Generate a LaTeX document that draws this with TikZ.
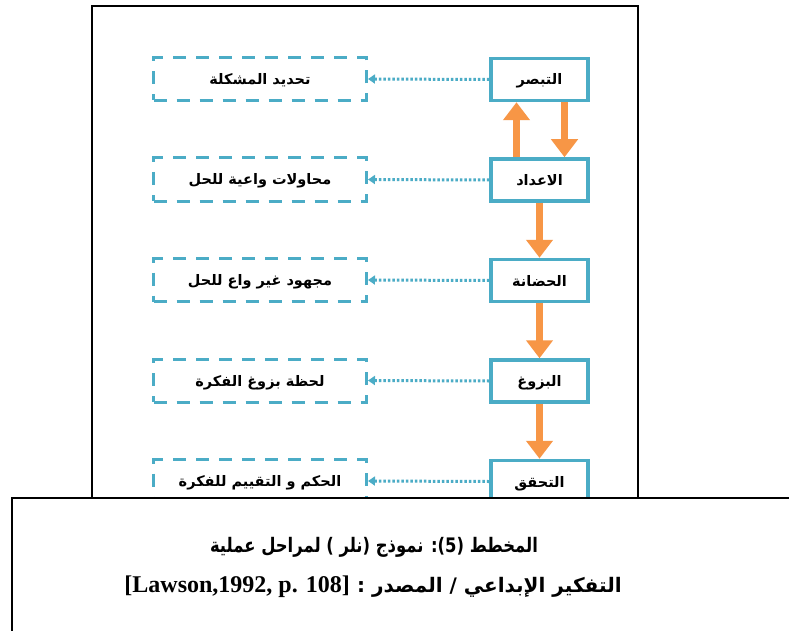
\documentclass[tikz,border=0pt]{standalone}
\usepackage{fontspec}
\usepackage{graphicx}
\setmainfont{Liberation Serif}
\newfontfamily\arabicfont[Script=Arabic]{DejaVu Sans}
\TeXXeTstate=1
\usetikzlibrary{arrows.meta}
\definecolor{boxteal}{HTML}{4BACC6}
\definecolor{arrorange}{HTML}{F79646}
\begin{document}
\begin{tikzpicture}[x=1pt,y=-1pt,
  stagebox/.style={draw=boxteal, line width=3.5pt, minimum width=97pt, minimum height=42pt, inner sep=0pt,
    text height=12pt, text depth=1pt,
    font=\arabicfont\bfseries\fontsize{14.5}{16}\selectfont},
  notebox/.style={draw=boxteal, line width=3pt, dash pattern=on 13pt off 10pt, minimum width=213pt, minimum height=43pt, inner sep=0pt,
    text height=12pt, text depth=1pt,
    font=\arabicfont\bfseries\fontsize{14.5}{16}\selectfont},
  linkline/.style={draw=boxteal, line width=3pt, dash pattern=on 2.5pt off 2pt, -{Triangle[length=7pt,width=9pt]}},
  flowarrow/.style={draw=arrorange, line width=6.5pt, -{Triangle[length=18pt,width=26pt]}},
  captext/.style={font=\bfseries\fontsize{20}{24}\selectfont, inner sep=0pt}
]
\useasboundingbox (0,0) rectangle (789,631);
\fill[white] (0,0) rectangle (789,631);
% outer frame
\draw[line width=2pt] (92,498) -- (92,6) -- (638,6) -- (638,498);
% stages
\node[stagebox] (s1) at (539.5,79.5) {\beginR التبصر\endR};
\node[stagebox] (s2) at (539.5,180) {\beginR الاعداد\endR};
\node[stagebox] (s3) at (539.5,280.5) {\beginR الحضانة\endR};
\node[stagebox] (s4) at (539.5,381) {\beginR البزوغ\endR};
\node[stagebox] (s5) at (539.5,481.5) {\beginR التحقق\endR};
% notes
\node[notebox] (n1) at (260,79) {\beginR تحديد المشكلة\endR};
\node[notebox] (n2) at (260,179.5) {\beginR محاولات واعية للحل\endR};
\node[notebox] (n3) at (260,280) {\beginR مجهود غير واع للحل\endR};
\node[notebox] (n4) at (260,380.5) {\beginR لحظة بزوغ الفكرة\endR};
\node[notebox] (n5) at (260,481) {\beginR الحكم و التقييم للفكرة\endR};
% dotted links
\foreach \i in {1,...,5} \draw[linkline] (s\i.west) -- (n\i.east);
% orange flow arrows
\draw[flowarrow] ([xshift=-23pt]s2.north) -- ([xshift=-23pt]s1.south);
\draw[flowarrow] ([xshift=25pt]s1.south) -- ([xshift=25pt]s2.north);
\draw[flowarrow] (s2) -- (s3);
\draw[flowarrow] (s3) -- (s4);
\draw[flowarrow] (s4) -- (s5);
% caption box
\fill[white] (12,498) rectangle (800,640);
\draw[line width=2pt] (800,498) -- (12,498) -- (12,640);
\node[captext] (c1) at (374,547) {\scalebox{0.82}[1]{\arabicfont\beginR المخطط (5): نموذج (نلر ) لمراحل عملية\endR}};
\node[captext, anchor=west] (c2) at (357,587) {\beginR{\arabicfont التفكير الإبداعي / المصدر :}\endR};
\node[captext, anchor=east, font=\bfseries\fontsize{24}{28}\selectfont] (c3) at ([xshift=-7pt]c2.west) {[Lawson,1992, p. 108]};
\end{tikzpicture}
\end{document}
